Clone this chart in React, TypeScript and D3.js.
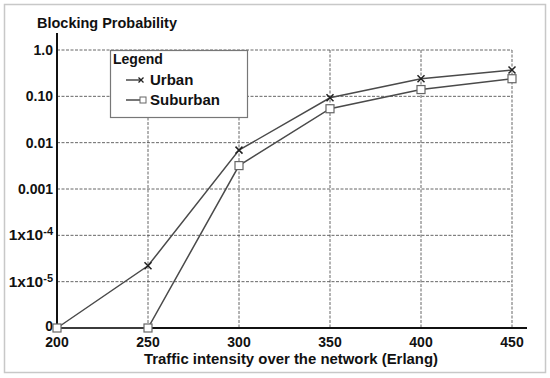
import React, { useRef, useEffect } from "react";
import * as d3 from "d3";

// Chart data (0 sits on the floor of the log axis)
const traffic = [200, 250, 300, 350, 400, 450];
const urban = [0, 2.2e-5, 0.0069, 0.093, 0.24, 0.37];
const suburban = [0, 0, 0.0032, 0.054, 0.14, 0.24];
const yTicks = [1e-6, 1e-5, 1e-4, 1e-3, 0.01, 0.1, 1];
const yTickLabels = ["0", "1x10-5", "1x10-4", "0.001", "0.01", "0.10", "1.0"];

const FLOOR = 1e-6;

const App = () => {
  const svgRef = useRef<SVGSVGElement>(null);

  useEffect(() => {
    const width = 550;
    const height = 378;
    const margin = { top: 50, right: 38, bottom: 50, left: 57 };

    const svg = d3.select(svgRef.current).attr("width", width).attr("height", height);
    svg.selectAll("*").remove();

    const font = "'Liberation Sans', Arial, sans-serif";

    // outer frame
    svg
      .append("rect")
      .attr("x", 4.5)
      .attr("y", 4.5)
      .attr("width", 541)
      .attr("height", 368)
      .attr("fill", "white")
      .attr("stroke", "#c8c8c8")
      .attr("stroke-width", 1.5);

    const x = d3
      .scaleLinear()
      .domain([200, 450])
      .range([margin.left, width - margin.right]);

    const y = d3
      .scaleLog()
      .domain([FLOOR, 1])
      .range([height - margin.bottom, margin.top]);

    const yv = (v: number) => y(Math.max(v, FLOOR));

    // grid
    const grid = svg.append("g").attr("stroke", "#555").attr("stroke-width", 0.9).attr("stroke-dasharray", "3,1.5");
    yTicks.slice(1).forEach((t) => {
      grid
        .append("line")
        .attr("x1", x(200))
        .attr("x2", x(450))
        .attr("y1", y(t))
        .attr("y2", y(t));
    });
    traffic.slice(1).forEach((t) => {
      grid
        .append("line")
        .attr("x1", x(t))
        .attr("x2", x(t))
        .attr("y1", y(1))
        .attr("y2", y(FLOOR));
    });

    // axes lines
    svg
      .append("line")
      .attr("x1", x(200))
      .attr("x2", x(450) + 15)
      .attr("y1", y(FLOOR))
      .attr("y2", y(FLOOR))
      .attr("stroke", "#111")
      .attr("stroke-width", 2);
    svg
      .append("line")
      .attr("x1", x(200))
      .attr("x2", x(200))
      .attr("y1", y(1) - 17)
      .attr("y2", y(FLOOR))
      .attr("stroke", "#111")
      .attr("stroke-width", 2);

    // y tick labels
    const yl = svg
      .append("g")
      .attr("font-family", font)
      .attr("font-weight", "bold")
      .attr("font-size", 14)
      .attr("fill", "#111");
    yTicks.forEach((t, i) => {
      const lab = yTickLabels[i];
      const txt = yl
        .append("text")
        .attr("x", x(200) - 4)
        .attr("y", y(t) + (lab === "0" ? 3 : 5))
        .attr("text-anchor", "end");
      const m = lab.match(/^1x10(-\d)$/);
      if (m) {
        txt.append("tspan").attr("font-size", 15.5).text("1x10");
        txt.append("tspan").attr("dy", -5).attr("font-size", 11).text(m[1]);
        txt.append("tspan").attr("dy", 5).attr("font-size", 1).text(" ");
      } else {
        txt.text(lab);
      }
    });

    // x tick labels
    svg
      .append("g")
      .attr("font-family", font)
      .attr("font-weight", "bold")
      .attr("font-size", 14)
      .attr("fill", "#111")
      .selectAll("text")
      .data(traffic)
      .join("text")
      .attr("x", (d) => x(d))
      .attr("y", y(FLOOR) + 19)
      .attr("text-anchor", "middle")
      .text((d) => d);

    // titles
    svg
      .append("text")
      .attr("x", 37)
      .attr("y", 28)
      .attr("font-family", font)
      .attr("font-weight", "bold")
      .attr("font-size", 15)
      .attr("fill", "#111")
      .attr("textLength", 140)
      .attr("lengthAdjust", "spacingAndGlyphs")
      .text("Blocking Probability");
    svg
      .append("text")
      .attr("x", 144)
      .attr("y", 364)
      .attr("font-family", font)
      .attr("font-weight", "bold")
      .attr("font-size", 15)
      .attr("fill", "#111")
      .attr("textLength", 294)
      .attr("lengthAdjust", "spacingAndGlyphs")
      .text("Traffic intensity over the network (Erlang)");

    // series lines
    const line = d3
      .line<number>()
      .x((_, i) => x(traffic[i]))
      .y((d) => yv(d));

    const lineColor = "#4a4a4a";
    [urban, suburban].forEach((s) => {
      svg
        .append("path")
        .datum(s)
        .attr("d", line)
        .attr("fill", "none")
        .attr("stroke", lineColor)
        .attr("stroke-width", 1.5);
    });

    const cross = (g: any, cx: number, cy: number) => {
      const r = 3.5;
      g.append("path")
        .attr("d", `M${cx - r},${cy - r}L${cx + r},${cy + r}M${cx - r},${cy + r}L${cx + r},${cy - r}`)
        .attr("stroke", "#222")
        .attr("stroke-width", 1.5)
        .attr("fill", "none");
    };
    const square = (g: any, cx: number, cy: number) => {
      const r = 4;
      g.append("rect")
        .attr("x", cx - r)
        .attr("y", cy - r)
        .attr("width", 2 * r)
        .attr("height", 2 * r)
        .attr("fill", "white")
        .attr("stroke", "#666")
        .attr("stroke-width", 1.2);
    };

    const marks = svg.append("g");
    urban.forEach((v, i) => {
      if (v > 0) cross(marks, x(traffic[i]), yv(v));
    });
    suburban.forEach((v, i) => square(marks, x(traffic[i]), yv(v)));

    // legend
    const lg = svg.append("g");
    lg.append("rect")
      .attr("x", 110.5)
      .attr("y", 50.5)
      .attr("width", 137)
      .attr("height", 67)
      .attr("fill", "white")
      .attr("stroke", "#777")
      .attr("stroke-width", 1.2);
    lg.append("text")
      .attr("x", 113)
      .attr("y", 64)
      .attr("font-family", font)
      .attr("font-weight", "bold")
      .attr("font-size", 14)
      .attr("fill", "#111")
      .text("Legend");
    const entries = [
      { name: "Urban", y: 80 },
      { name: "Suburban", y: 100 },
    ];
    entries.forEach((e) => {
      lg.append("line")
        .attr("x1", 126)
        .attr("x2", 141)
        .attr("y1", e.y)
        .attr("y2", e.y)
        .attr("stroke", lineColor)
        .attr("stroke-width", 1.5);
      if (e.name === "Urban") {
        const r = 2.5;
        lg.append("path")
          .attr("d", `M${141 - r},${e.y - r}L${141 + r},${e.y + r}M${141 - r},${e.y + r}L${141 + r},${e.y - r}`)
          .attr("stroke", "#222")
          .attr("stroke-width", 1.3);
      } else {
        lg.append("rect")
          .attr("x", 140)
          .attr("y", e.y - 3)
          .attr("width", 6)
          .attr("height", 6)
          .attr("fill", "white")
          .attr("stroke", "#666")
          .attr("stroke-width", 1);
      }
      lg.append("text")
        .attr("x", 150)
        .attr("y", e.y + 5)
        .attr("font-family", font)
        .attr("font-weight", "bold")
        .attr("font-size", 15)
        .attr("fill", "#111")
        .text(e.name);
    });
  }, []);

  return (
    <div style={{ position: "absolute", left: 0, top: 0 }}>
      <svg ref={svgRef}></svg>
    </div>
  );
};

export default App;
